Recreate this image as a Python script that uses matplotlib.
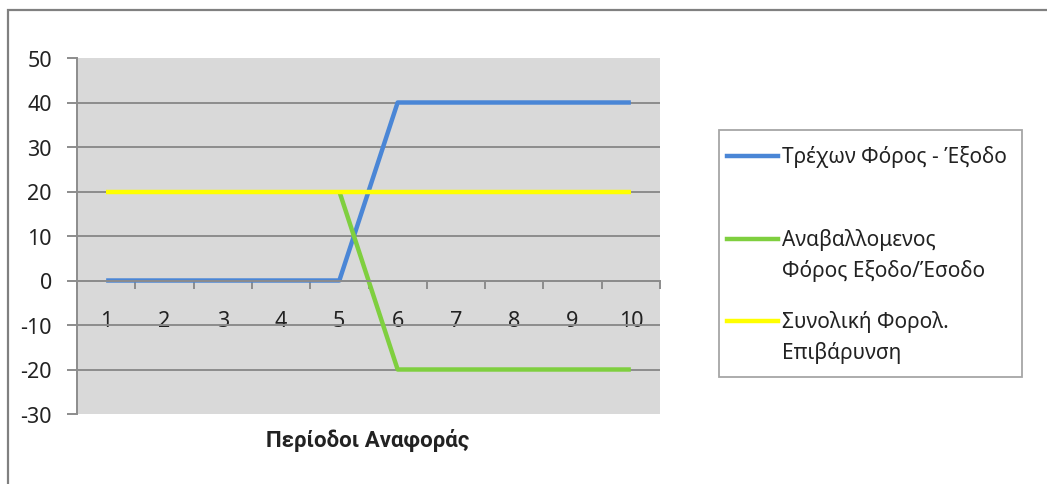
import numpy as np
import matplotlib.pyplot as plt
from matplotlib.lines import Line2D
from matplotlib.patches import Rectangle

plt.rcParams['font.family'] = ['Noto Sans', 'DejaVu Sans']
plt.rcParams['axes.unicode_minus'] = False

periods = [1, 2, 3, 4, 5, 6, 7, 8, 9, 10]
current_tax = [0, 0, 0, 0, 0, 40, 40, 40, 40, 40]
deferred_tax = [np.nan, np.nan, np.nan, np.nan, 20, -20, -20, -20, -20, -20]
total_tax = [20, 20, 20, 20, 20, 20, 20, 20, 20, 20]
series_labels = [['Τρέχων Φόρος - Έξοδο'],
                 ['Αναβαλλομενος', 'Φόρος Εξοδο/Έσοδο'],
                 ['Συνολική Φορολ.', 'Επιβάρυνση']]
y_ticks = [-30, -20, -10, 0, 10, 20, 30, 40, 50]
x_title = 'Περίοδοι Αναφοράς'

W, H = 1047, 485
fig = plt.figure(figsize=(W / 100, H / 100), dpi=100)
ax = fig.add_axes([77 / W, 1 - 415 / H, 583 / W, 356 / H])
ax.set_facecolor('#d9d9d9')

grid_col = '#8c8c8c'
l1, = ax.plot(periods, current_tax, color='#4a86d6', lw=3.2, solid_capstyle='butt')
l2, = ax.plot(periods, deferred_tax, color='#7fcf3f', lw=3.2, solid_capstyle='butt')
l3, = ax.plot(periods, total_tax, color='#ffff00', lw=3.2, solid_capstyle='butt')

ax.set_xlim(0.5, 10.5)
ax.set_ylim(-30, 50)
ax.set_yticks(y_ticks)
ax.yaxis.grid(True, color=grid_col, lw=1.4)
gl = ax.get_ygridlines()
gl[0].set_visible(False)
gl[-1].set_visible(False)
ax.set_axisbelow(True)

for s in ['top', 'right']:
    ax.spines[s].set_visible(False)
ax.spines['left'].set_color(grid_col)
ax.spines['left'].set_linewidth(1.4)
ax.spines['bottom'].set_position(('data', 0))
ax.spines['bottom'].set_color(grid_col)
ax.spines['bottom'].set_linewidth(1.4)

ax.set_xticks(periods)
ax.set_xticks(np.arange(0.5, 11, 1), minor=True)
ax.tick_params(axis='x', which='major', length=0, pad=21, labelsize=15.5, labelcolor='#222222')
ax.tick_params(axis='x', which='minor', length=6, width=1.4, color=grid_col, direction='out')
ax.tick_params(axis='y', length=7, width=1.4, color=grid_col, pad=11, labelsize=15.5, labelcolor='#222222')

fig.text(368 / W, 1 - 440 / H, x_title, ha='center', va='center', fontsize=16,
         fontweight='bold', family=['Roboto', 'DejaVu Sans'], color='#222222')

# outer chart frame (top and left only visible)
fig.patches.append(Rectangle((8 / W, -0.2), 1.2, 1.2 - 11 / H, transform=fig.transFigure,
                             fill=False, edgecolor='#808080', lw=1.6))

# legend box
fig.patches.append(Rectangle((719 / W, 1 - 378 / H), 303 / W, 247 / H, transform=fig.transFigure,
                             facecolor='white', edgecolor='#a6a6a6', lw=1.3))
entry_y = [157, 240, 322]
for line, labs, yy in zip([l1, l2, l3], series_labels, entry_y):
    fig.lines.append(Line2D([727 / W, 778 / W], [1 - yy / H, 1 - yy / H], transform=fig.transFigure,
                            color=line.get_color(), lw=3.2))
    for k, lab in enumerate(labs):
        fig.text(782 / W, 1 - (yy + 31 * k) / H, lab, ha='left', va='center', fontsize=15,
                 color='#222222')

fig.savefig('out.png', dpi=100)
